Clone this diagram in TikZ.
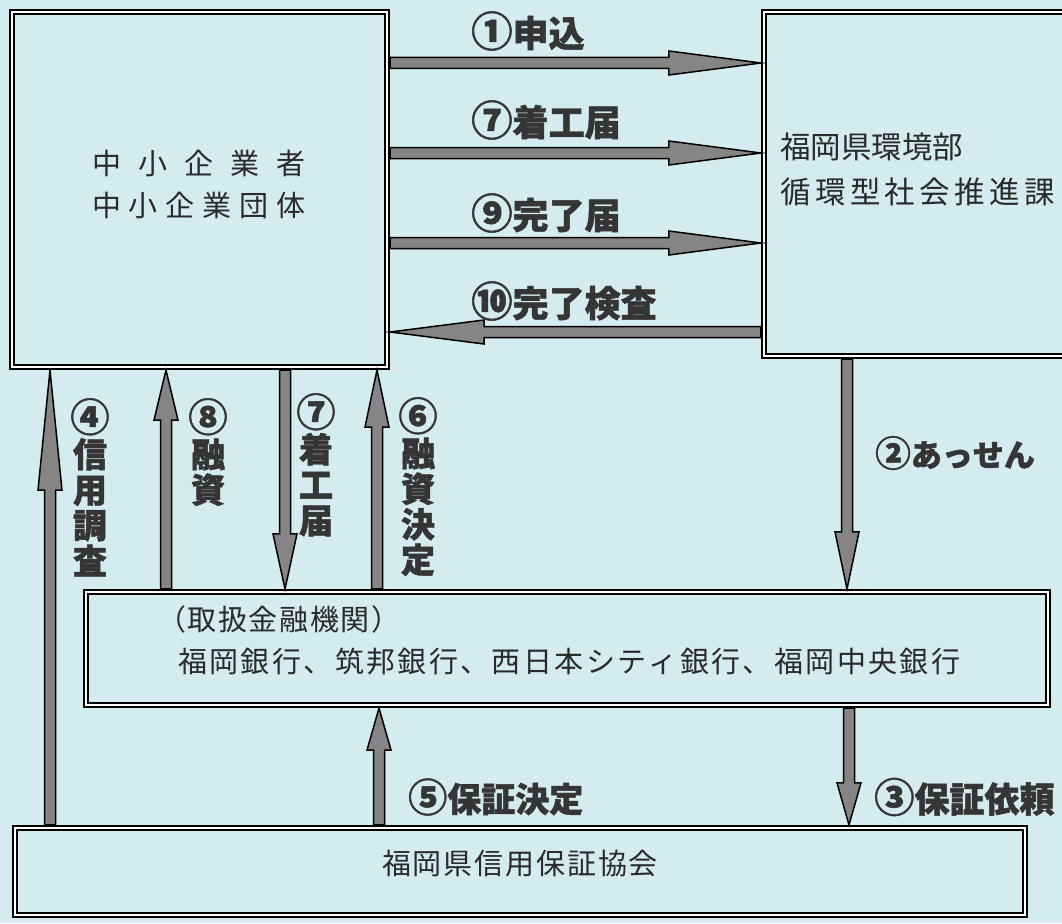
\documentclass[tikz,border=0pt]{standalone}
\usepackage{fontspec}
\usepackage{graphicx}
\usetikzlibrary{calc}
\newfontfamily\jp{Noto Sans CJK JP}
\newfontfamily\jpb{Noto Sans CJK JP}[BoldFeatures={FakeBold=1.3}]
\definecolor{bg}{HTML}{D4EBF0}
\definecolor{agray}{HTML}{858585}
\definecolor{txt}{HTML}{2A2A2A}
\definecolor{lab}{HTML}{353535}
\makeatletter
\def\sp@loop#1{\ifx\relax#1\else#1\hfill\expandafter\sp@loop\fi}
\newcommand\spreadto[2]{\hbox to #1{\sp@loop#2\relax\unskip}}
\makeatother
\newcommand\cn[1]{\scalebox{1.15}{#1}}
\newcommand\blockarrow[3]{%
  \coordinate (hb) at ($(#3)!#1!(#2)$);
  \draw[barrow] ($(#2)!5.5pt!90:(#3)$) -- ($(hb)!5.5pt!90:(#3)$) -- ($(hb)!12pt!90:(#3)$) -- (#3)
     -- ($(hb)!12pt!-90:(#3)$) -- ($(hb)!5.5pt!-90:(#3)$) -- ($(#2)!5.5pt!-90:(#3)$) -- cycle;}
\tikzset{
  dbox/.style={draw=black, line width=1.8pt, double=white, double distance=2.6pt,
    rectangle, inner sep=0pt, outer sep=3.1pt},
  barrow/.style={fill=agray, draw=black, line width=1.5pt, line join=miter},
  btxt/.style={inner sep=0pt, text=txt, font=\jp\fontsize{29}{34}\selectfont},
  hlab/.style={inner sep=0pt, text=lab, anchor=west, font=\jpb\bfseries\fontsize{36}{40}\selectfont},
  vlab/.style={inner sep=0pt, text=lab, anchor=north, align=center, font=\jpb\bfseries\fontsize{34}{35.5}\selectfont},
}
\begin{document}
\begin{tikzpicture}[x=1pt,y=-1pt]
\useasboundingbox (0,0) rectangle (1062,923);
\fill[bg] (0,0) rectangle (1062,923);
% boxes
\node[dbox, minimum width=375pt, minimum height=355pt] (A) at (199.5,189.5) {};
\node[dbox, minimum width=316pt, minimum height=344pt] (B) at (922,184) {};
\node[dbox, minimum width=962pt, minimum height=113pt] (Bank) at (567,648.5) {};
\node[dbox, minimum width=1010pt, minimum height=87pt] (Bot) at (520,871.5) {};
% box texts
\node[btxt] (ta1) at (199,163) {\spreadto{214pt}{中小企業者}};
\node[btxt] (ta2) at (199,205) {\spreadto{214pt}{中小企業団体}};
\node[btxt, anchor=west, font=\jp\fontsize{30.5}{34}\selectfont] (tb1) at (780,147) {福岡県環境部};
\node[btxt, anchor=west, font=\jp\fontsize{30.5}{34}\selectfont] (tb2) at (780,192) {\spreadto{275pt}{循環型社会推進課}};
\node[btxt, anchor=west] (tk1) at (157,619) {\spreadto{243pt}{（取扱金融機関）}};
\node[btxt, anchor=west] (tk2) at (178,661) {\spreadto{782pt}{福岡銀行、筑邦銀行、西日本シティ銀行、福岡中央銀行}};
\node[btxt] (tc) at (520,864) {\spreadto{276pt}{福岡県信用保証協会}};
% connector end points
\coordinate (r1s) at (A.east |- 0,63);   \coordinate (r1e) at (B.west |- 0,63);
\coordinate (r7s) at (A.east |- 0,153);  \coordinate (r7e) at (B.west |- 0,153);
\coordinate (r9s) at (A.east |- 0,243);  \coordinate (r9e) at (B.west |- 0,243);
\coordinate (r10s) at (B.west |- 0,332); \coordinate (r10e) at (A.east |- 0,332);
\coordinate (v4s) at (Bot.north -| 50,0);   \coordinate (v4e) at (A.south -| 50,0);
\coordinate (v8s) at (Bank.north -| 166,0); \coordinate (v8e) at (A.south -| 166,0);
\coordinate (v7s) at (A.south -| 285,0);    \coordinate (v7e) at (Bank.north -| 285,0);
\coordinate (v6s) at (Bank.north -| 377,0); \coordinate (v6e) at (A.south -| 377,0);
\coordinate (v2s) at (B.south -| 847,0);    \coordinate (v2e) at (Bank.north -| 847,0);
\coordinate (v5s) at (Bot.north -| 379,0);  \coordinate (v5e) at (Bank.south -| 379,0);
\coordinate (v3s) at (Bank.south -| 849,0); \coordinate (v3e) at (Bot.north -| 849,0);
% arrows
\blockarrow{92pt}{r1s}{r1e}
\blockarrow{92pt}{r7s}{r7e}
\blockarrow{92pt}{r9s}{r9e}
\blockarrow{94pt}{r10s}{r10e}
\blockarrow{120pt}{v4s}{v4e}
\blockarrow{50pt}{v8s}{v8e}
\blockarrow{55pt}{v7s}{v7e}
\blockarrow{57pt}{v6s}{v6e}
\blockarrow{57pt}{v2s}{v2e}
\blockarrow{42pt}{v5s}{v5e}
\blockarrow{42pt}{v3s}{v3e}
% labels
\node[hlab] (l1) at (471,31) {\cn{①}申込};
\node[hlab] (l7) at (471,120) {\cn{⑦}着工届};
\node[hlab] (l9) at (471,213) {\cn{⑨}完了届};
\node[hlab] (l10) at (471,301) {\cn{⑩}完了検査};
\node[hlab, font=\jpb\bfseries\fontsize{31}{35}\selectfont] (l2) at (875,453) {\cn{②}あっせん};
\node[hlab, font=\jpb\bfseries\fontsize{34}{38}\selectfont] (l5) at (408,797) {\cn{⑤}保証決定};
\node[hlab, font=\jpb\bfseries\fontsize{35}{38}\selectfont] (l3) at (874,797) {\cn{③}保証依頼};
\node[vlab] (l4) at (90,398) {\cn{④}\\信\\用\\調\\査};
\node[vlab] (l8) at (208,398) {\cn{⑧}\\融\\資};
\node[vlab] (l7v) at (316,393) {\cn{⑦}\\着\\工\\届};
\node[vlab] (l6) at (418,397) {\cn{⑥}\\融\\資\\決\\定};
\end{tikzpicture}
\end{document}
